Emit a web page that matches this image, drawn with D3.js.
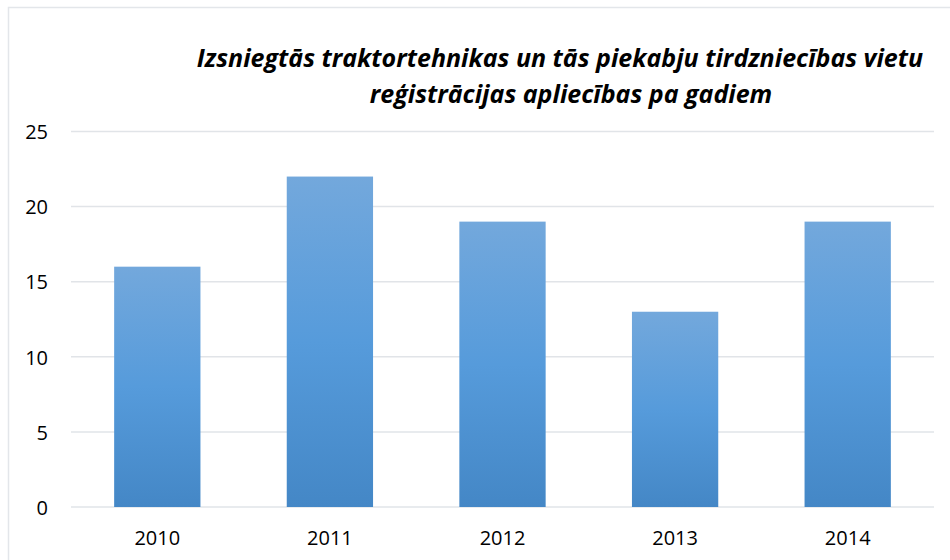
<!DOCTYPE html>
<html>
<head>
<meta charset="utf-8">
<script src="https://cdn.jsdelivr.net/npm/d3@7"></script>
<style>
  body { margin: 0; background: #fff; }
  svg { display: block; }
  .tick text { font-family: "Open Sans", sans-serif; font-size: 20px; fill: #000; }
</style>
</head>
<body>
<svg id="chart" width="950" height="560"></svg>
<script>
const years = ["2010", "2011", "2012", "2013", "2014"];
const counts = [16, 22, 19, 13, 19];
const yTicks = [0, 5, 10, 15, 20, 25];
const titleLines = [
  "Izsniegtās traktortehnikas un tās piekabju tirdzniecības vietu",
  "reģistrācijas apliecības pa gadiem",
];

const MARGIN = { left: 71, top: 131.5, right: 16, bottom: 53 };
const width = 950;
const height = 560;

const svg = d3.select("#chart");

// outer chart frame (only top and left edges are visible in the crop)
svg.append("path")
  .attr("d", "M8.5,560V7.5H950")
  .attr("fill", "none")
  .attr("stroke", "#e3e6ea")
  .attr("stroke-width", 1.5);

const grad = svg.append("defs")
  .append("linearGradient")
  .attr("id", "barFill")
  .attr("x1", 0).attr("y1", 0)
  .attr("x2", 0).attr("y2", 1);
grad.append("stop").attr("offset", "0%").attr("stop-color", "#73a8dc");
grad.append("stop").attr("offset", "50%").attr("stop-color", "#569bdb");
grad.append("stop").attr("offset", "100%").attr("stop-color", "#4487c6");

const x = d3.scaleBand()
  .domain(years)
  .range([MARGIN.left, width - MARGIN.right])
  .paddingInner(0.5)
  .paddingOuter(0.25);

const y = d3.scaleLinear()
  .domain([0, 25])
  .range([height - MARGIN.bottom, MARGIN.top]);

// gridlines
svg.append("g")
  .selectAll("line")
  .data(yTicks)
  .join("line")
  .attr("x1", MARGIN.left)
  .attr("x2", width - MARGIN.right)
  .attr("y1", (d) => y(d))
  .attr("y2", (d) => y(d))
  .attr("stroke", "#e1e4e8")
  .attr("stroke-width", 1.5);

svg.append("g")
  .selectAll("rect")
  .data(counts)
  .join("rect")
  .attr("x", (d, i) => x(years[i]))
  .attr("y", (d) => y(d))
  .attr("width", x.bandwidth())
  .attr("height", (d) => y(0) - y(d))
  .attr("fill", "url(#barFill)");

const yAxis = svg.append("g")
  .attr("transform", `translate(${MARGIN.left - 23},0)`)
  .call(d3.axisLeft(y).tickValues(yTicks).tickSize(0).tickPadding(0));
yAxis.select(".domain").remove();
yAxis.selectAll("text").attr("dy", "0.36em");

const xAxis = svg.append("g")
  .attr("transform", `translate(0,${y(0)})`)
  .call(d3.axisBottom(x).tickSize(0).tickPadding(24));
xAxis.select(".domain").remove();

svg.append("text")
  .attr("y", 67)
  .attr("text-anchor", "middle")
  .style("font-family", "'Open Sans', sans-serif")
  .style("font-size", "25px")
  .style("font-weight", "bold")
  .style("font-style", "italic")
  .selectAll("tspan")
  .data(titleLines)
  .join("tspan")
  .attr("x", (d, i) => (i === 0 ? 560 : 571))
  .attr("dy", (d, i) => (i === 0 ? 0 : 36))
  .text((d) => d);
</script>
</body>
</html>
